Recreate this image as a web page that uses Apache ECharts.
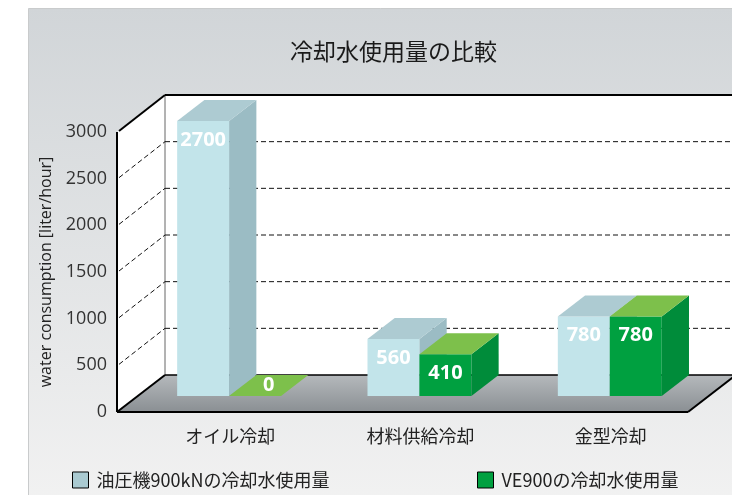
<!DOCTYPE html>
<html lang="ja">
<head>
<meta charset="utf-8">
<title>冷却水使用量の比較</title>
<script src="https://cdn.jsdelivr.net/npm/echarts@6/dist/echarts.min.js"></script>
</head>
<body style="margin:0">
<div id="main" style="width:732px;height:495px"></div>
<script>
// data
var categories = ['オイル冷却', '材料供給冷却', '金型冷却'];
var seriesNames = ['油圧機900kNの冷却水使用量', 'VE900の冷却水使用量'];
var oilPress = [2700, 560, 780];
var ve900 = [0, 410, 780];
var yTicks = [0, 500, 1000, 1500, 2000, 2500, 3000];

// look of the fake 3d box
var depth = [48, -37];      // floor depth, px
var barFront = 16 / 37;     // bars start this far back on the floor
var jpFont = '"Noto Sans CJK JP", sans-serif';
var numFont = '"Open Sans", "Noto Sans CJK JP", sans-serif';

var blueFaces = { front: '#c2e4ea', side: '#9bbcc4', top: '#adcbd2' };
var greenFaces = { front: '#00a040', side: '#008c3a', top: '#7dc04b' };

var chart = echarts.init(document.getElementById('main'));

function renderFrame(params, api) {
  var cs = params.coordSys;
  var dx = depth[0], dy = depth[1];
  var l = cs.x, t = cs.y, r = cs.x + cs.width, b = cs.y + cs.height;
  var W = api.getWidth() + 10;
  var v = api.value(1);
  var y = api.coord([0, v])[1];
  var dash = { stroke: '#111', lineWidth: 1, lineDash: [5, 3] };
  var solid = { stroke: '#000', lineWidth: 2 };

  if (params.dataIndex === 0) {
    var floorFill = new echarts.graphic.LinearGradient(0, 0, 0, 1, [
      { offset: 0, color: '#b5b9bc' },
      { offset: 1, color: '#8a8f93' }
    ]);
    return {
      type: 'group',
      children: [
        { type: 'rect', shape: { x: l + dx, y: t + dy, width: W - l - dx, height: cs.height }, style: { fill: '#fff' } },
        { type: 'polygon', shape: { points: [[l, t], [l + dx, t + dy], [l + dx, b + dy], [l, b]] }, style: { fill: '#fff' } },
        { type: 'line', shape: { x1: l + dx, y1: t + dy, x2: l + dx, y2: b + dy }, style: { stroke: '#666', lineWidth: 1 } },
        { type: 'polygon', shape: { points: [[l, b], [r, b], [r + dx, b + dy], [l + dx, b + dy]] }, style: { fill: floorFill } },
        { type: 'line', shape: { x1: l + dx, y1: b + dy, x2: W, y2: b + dy }, style: { stroke: '#000', lineWidth: 1.5 } },
        { type: 'line', shape: { x1: l, y1: b, x2: r, y2: b }, style: solid },
        { type: 'line', shape: { x1: r, y1: b, x2: r + dx, y2: b + dy }, style: solid },
        { type: 'line', shape: { x1: l, y1: b, x2: l + dx, y2: b + dy }, style: solid },
        { type: 'line', shape: { x1: l, y1: t, x2: l, y2: b }, style: solid }
      ]
    };
  }
  var top = v === yTicks[yTicks.length - 1];
  var st = top ? solid : dash;
  return {
    type: 'group',
    children: [
      { type: 'line', shape: { x1: l + 2, y1: y - 1, x2: l + dx, y2: y + dy }, style: st },
      { type: 'line', shape: { x1: l + dx, y1: y + dy, x2: W, y2: y + dy }, style: st }
    ]
  };
}

function barRenderer(si, faces) {
  return function (params, api) {
    var cat = api.value(0), val = api.value(1);
    var base = api.coord([cat, 0]);
    var tip = api.coord([cat, val]);
    var band = api.size([1, 0])[0];
    var bw = band * 0.273;
    var fx = depth[0] * barFront, fy = depth[1] * barFront;
    var ddx = depth[0] * (1 - barFront), ddy = depth[1] * (1 - barFront);
    var x = base[0] - band * 0.02 - bw + si * bw + fx;
    var yb = base[1] + fy, yt = tip[1] + fy;
    var kids = [];
    if (yb - yt > 0) {
      kids.push({ type: 'rect', shape: { x: x, y: yt, width: bw, height: yb - yt }, style: { fill: faces.front } });
      kids.push({ type: 'polygon', shape: { points: [[x + bw, yt], [x + bw + ddx, yt + ddy], [x + bw + ddx, yb + ddy], [x + bw, yb]] }, style: { fill: faces.side } });
    }
    kids.push({ type: 'polygon', shape: { points: [[x, yt], [x + ddx, yt + ddy], [x + bw + ddx, yt + ddy], [x + bw, yt]] }, style: { fill: faces.top } });
    var lx = x + bw / 2, ly = yt + 19;
    if (val === 0) { lx = x + bw / 2 + ddx / 2; ly = yb + ddy / 2; }
    kids.push({
      type: 'text',
      style: { text: String(val), x: lx, y: ly, fill: '#fff', font: 'bold 20px ' + numFont, align: 'center', verticalAlign: 'middle' }
    });
    return { type: 'group', children: kids };
  };
}

function legendFor(name, left) {
  return {
    left: left, top: 466,
    data: [name],
    icon: 'rect', itemWidth: 16, itemHeight: 16,
    itemStyle: { borderColor: '#000', borderWidth: 1 },
    textStyle: { fontSize: 18, color: '#222', fontFamily: jpFont, padding: [0, 0, 0, 3] },
    selectedMode: false
  };
}

var option = {
  backgroundColor: '#fff',
  animation: false,
  graphic: [{
    type: 'rect', z: -100,
    shape: { x: 28.5, y: 8.5, width: 720, height: 500 },
    style: {
      fill: new echarts.graphic.LinearGradient(0, 0, 0, 1, [
        { offset: 0, color: '#d1d5d8' },
        { offset: 1, color: '#f2f2f2' }
      ]),
      stroke: '#c9cbcc', lineWidth: 1
    }
  }],
  title: {
    text: '冷却水使用量の比較',
    left: 285, top: 35,
    textStyle: { fontSize: 23, fontWeight: 'normal', color: '#1a1a1a', fontFamily: jpFont }
  },
  legend: [legendFor(seriesNames[0], 67), legendFor(seriesNames[1], 472)],
  grid: { left: 117, right: 44, top: 132, bottom: 83 },
  xAxis: {
    type: 'category',
    data: categories,
    axisLine: { show: false },
    axisTick: { show: false },
    axisLabel: { margin: 15, fontSize: 18, color: '#222', fontFamily: jpFont, padding: [0, 0, 0, 36] }
  },
  yAxis: [{
    type: 'value', min: 0, max: 3000, interval: 500,
    name: 'water consumption [liter/hour]',
    nameLocation: 'middle', nameRotate: 90, nameGap: 57,
    nameTextStyle: { fontSize: 16, color: '#222', fontFamily: numFont },
    axisLine: { show: false },
    axisTick: { show: false },
    splitLine: { show: false },
    axisLabel: {
      margin: 10, fontSize: 18, color: '#333', fontFamily: numFont,
      formatter: function (v) { return String(v); }
    }
  }, {
    // scale the bars are drawn on
    type: 'value', min: 0, max: 2750, show: false,
    splitLine: { show: false }
  }],
  series: [{
    type: 'custom', name: 'frame', silent: true, z: 1,
    yAxisIndex: 0,
    renderItem: renderFrame,
    data: yTicks.map(function (t) { return [0, t]; })
  }, {
    type: 'custom', name: seriesNames[0], z: 3,
    yAxisIndex: 1,
    itemStyle: { color: '#aacad1' },
    renderItem: barRenderer(0, blueFaces),
    data: oilPress.map(function (v, i) { return [i, v]; })
  }, {
    type: 'custom', name: seriesNames[1], z: 4,
    yAxisIndex: 1,
    itemStyle: { color: '#00a040' },
    renderItem: barRenderer(1, greenFaces),
    data: ve900.map(function (v, i) { return [i, v]; })
  }]
};

chart.setOption(option);
</script>
</body>
</html>
